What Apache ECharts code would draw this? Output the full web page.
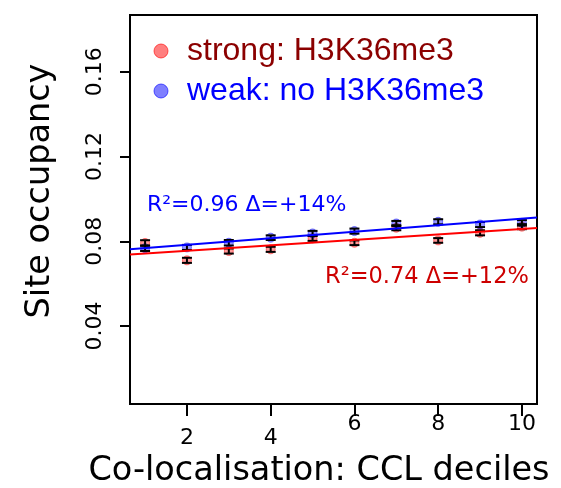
<!DOCTYPE html>
<html>
<head>
<meta charset="utf-8">
<script src="https://cdn.jsdelivr.net/npm/echarts@6/dist/echarts.min.js"></script>
<style>
  html, body { margin: 0; padding: 0; background: #fff; }
  #chart { width: 561px; height: 488px; }
</style>
</head>
<body>
<div id="chart"></div>
<script>
// CCL deciles and mean site occupancy (± s.e.) per class
const deciles   = [1, 2, 3, 4, 5, 6, 7, 8, 9, 10];
const strongOcc = [0.0792, 0.0710, 0.0754, 0.0762, 0.0814, 0.0793, 0.0864, 0.0804, 0.0840, 0.0869];
const strongErr = [0.0013, 0.0012, 0.0012, 0.0012, 0.0012, 0.0011, 0.0012, 0.0011, 0.0012, 0.0012];
const weakOcc   = [0.0767, 0.0771, 0.0793, 0.0817, 0.0837, 0.0848, 0.0884, 0.0892, 0.0879, 0.0887];
const weakErr   = [0.0013, 0.0012, 0.0013, 0.0011, 0.0012, 0.0012, 0.0012, 0.0012, 0.0012, 0.0013];

const seriesNames = ['strong: H3K36me3', 'weak: no H3K36me3'];
const fitLabels   = ['R\u00B2=0.74 \u0394=+12%', 'R\u00B2=0.96 \u0394=+14%'];
const xTicks = [2, 4, 6, 8, 10];
const yTicks = [0.04, 0.08, 0.12, 0.16];
const xRange = [0.64, 10.36];
const yRange = [0.0032, 0.1868];

// ordinary least squares fit, evaluated at the ends of the x range
function fitLine(xs, ys) {
  const n = xs.length;
  const mx = xs.reduce((a, b) => a + b, 0) / n;
  const my = ys.reduce((a, b) => a + b, 0) / n;
  let sxy = 0, sxx = 0;
  for (let i = 0; i < n; i++) {
    sxy += (xs[i] - mx) * (ys[i] - my);
    sxx += (xs[i] - mx) * (xs[i] - mx);
  }
  const slope = sxy / sxx;
  const icpt = my - slope * mx;
  return xRange.map(x => [x, icpt + slope * x]);
}

function triples(ys, es) {
  return deciles.map((x, i) => [x, ys[i], es[i]]);
}

function renderErrorBar(params, api) {
  const x = api.value(0), y = api.value(1), e = api.value(2);
  const lo = api.coord([x, y - e]);
  const hi = api.coord([x, y + e]);
  const hw = 5;
  const st = { stroke: '#000', lineWidth: 2 };
  return {
    type: 'group',
    children: [
      { type: 'line', shape: { x1: lo[0], y1: lo[1], x2: hi[0], y2: hi[1] }, style: st },
      { type: 'line', shape: { x1: lo[0] - hw, y1: lo[1], x2: lo[0] + hw, y2: lo[1] }, style: st },
      { type: 'line', shape: { x1: hi[0] - hw, y1: hi[1], x2: hi[0] + hw, y2: hi[1] }, style: st }
    ]
  };
}

const redFill  = 'rgba(255,0,0,0.5)';
const blueFill = 'rgba(0,0,255,0.5)';
const font = 'DejaVu Sans';

const chart = echarts.init(document.getElementById('chart'), null, { renderer: 'canvas' });

chart.setOption({
  animation: false,
  backgroundColor: '#fff',
  grid: {
    left: 130, top: 15, right: 24, bottom: 84,
    show: true, borderColor: '#000', borderWidth: 2
  },
  xAxis: {
    type: 'value',
    min: xRange[0], max: xRange[1],
    splitLine: { show: false },
    axisLine: { show: true, onZero: false, lineStyle: { color: '#000', width: 2 } },
    axisTick: { show: true, customValues: xTicks, length: 12, lineStyle: { color: '#000', width: 2 } },
    axisLabel: {
      customValues: xTicks,
      margin: 9,
      color: '#000',
      fontFamily: font,
      fontSize: 22,
      formatter: v => (v <= 4 ? '{lo|' + v + '}' : '{hi|' + v + '}'),
      rich: {
        lo: { fontFamily: font, fontSize: 22, color: '#000', padding: [14, 0, 0, 0] },
        hi: { fontFamily: font, fontSize: 22, color: '#000' }
      }
    }
  },
  yAxis: {
    type: 'value',
    min: yRange[0], max: yRange[1],
    splitLine: { show: false },
    axisLine: { show: true, onZero: false, lineStyle: { color: '#000', width: 2 } },
    axisTick: { show: true, customValues: yTicks, length: 10, lineStyle: { color: '#000', width: 2 } },
    axisLabel: {
      customValues: yTicks,
      rotate: 90,
      margin: 24,
      color: '#000',
      fontFamily: font,
      fontSize: 22,
      formatter: v => v.toFixed(2)
    }
  },
  series: [
    {
      name: seriesNames[0], type: 'scatter', symbol: 'circle', symbolSize: 9,
      data: deciles.map((x, i) => [x, strongOcc[i]]),
      itemStyle: { color: redFill, borderColor: 'rgba(255,0,0,0.6)', borderWidth: 1 },
      z: 2
    },
    {
      name: seriesNames[1], type: 'scatter', symbol: 'circle', symbolSize: 9,
      data: deciles.map((x, i) => [x, weakOcc[i]]),
      itemStyle: { color: blueFill, borderColor: 'rgba(0,0,255,0.6)', borderWidth: 1 },
      z: 2
    },
    {
      type: 'custom', renderItem: renderErrorBar,
      data: triples(strongOcc, strongErr), z: 3
    },
    {
      type: 'custom', renderItem: renderErrorBar,
      data: triples(weakOcc, weakErr), z: 3
    },
    {
      type: 'line', data: fitLine(deciles, strongOcc), symbol: 'none',
      lineStyle: { color: '#ff0000', width: 2 }, z: 4, clip: true
    },
    {
      type: 'line', data: fitLine(deciles, weakOcc), symbol: 'none',
      lineStyle: { color: '#0000ff', width: 2 }, z: 4, clip: true
    }
  ],
  graphic: [
    // legend
    { type: 'circle', shape: { cx: 161, cy: 51, r: 7 },
      style: { fill: redFill, stroke: 'rgba(255,0,0,0.6)', lineWidth: 1 } },
    { type: 'text', x: 187, y: 51,
      style: { text: seriesNames[0], fill: '#8b0000', font: '32px "Liberation Sans"', textVerticalAlign: 'middle' } },
    { type: 'circle', shape: { cx: 161, cy: 91, r: 7 },
      style: { fill: blueFill, stroke: 'rgba(0,0,255,0.6)', lineWidth: 1 } },
    { type: 'text', x: 187, y: 91,
      style: { text: seriesNames[1], fill: '#0000ff', font: '32px "Liberation Sans"', textVerticalAlign: 'middle' } },
    // fit annotations
    { type: 'text', x: 147, y: 205,
      style: { text: fitLabels[1], fill: '#0000ff', font: '22px "DejaVu Sans"', textVerticalAlign: 'middle' } },
    { type: 'text', x: 325, y: 277,
      style: { text: fitLabels[0], fill: '#cd0000', font: '22.5px "DejaVu Sans"', textVerticalAlign: 'middle' } },
    // axis titles
    { type: 'text', x: 319, y: 471,
      style: { text: 'Co-localisation: CCL deciles', fill: '#000', font: '33.5px "DejaVu Sans"', textAlign: 'center', textVerticalAlign: 'middle' } },
    { type: 'text', x: 40, y: 191, rotation: Math.PI / 2,
      style: { text: 'Site occupancy', fill: '#000', font: '33.5px "DejaVu Sans"', textAlign: 'center', textVerticalAlign: 'middle' } }
  ]
});
</script>
</body>
</html>
